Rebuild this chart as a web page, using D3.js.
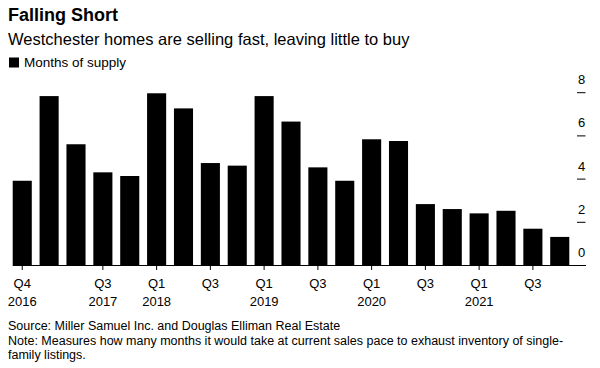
<!DOCTYPE html>
<html>
<head>
<meta charset="utf-8">
<script src="https://cdn.jsdelivr.net/npm/d3@7"></script>
<style>
  html, body { margin: 0; padding: 0; background: #fff; }
  svg { display: block; font-family: "Liberation Sans", Arial, Helvetica, sans-serif; }
</style>
</head>
<body>
<svg id="chart" width="600" height="368"></svg>
<script>
// Data
const quarters = ["Q4 2016","Q1 2017","Q2 2017","Q3 2017","Q4 2017",
  "Q1 2018","Q2 2018","Q3 2018","Q4 2018",
  "Q1 2019","Q2 2019","Q3 2019","Q4 2019",
  "Q1 2020","Q2 2020","Q3 2020","Q4 2020",
  "Q1 2021","Q2 2021","Q3 2021","Q4 2021"];
const monthsOfSupply = [3.9, 7.82, 5.59, 4.29, 4.12,
  7.95, 7.25, 4.72, 4.6,
  7.82, 6.64, 4.52, 3.9,
  5.82, 5.74, 2.82, 2.59,
  2.39, 2.51, 1.68, 1.3];
const xTickQuarters = ["Q4 2016","Q3 2017","Q1 2018","Q3 2018","Q1 2019","Q3 2019","Q1 2020","Q3 2020","Q1 2021","Q3 2021"];
const xTickLine1 = ["Q4","Q3","Q1","Q3","Q1","Q3","Q1","Q3","Q1","Q3"];
const xTickLine2 = ["2016","2017","2018","","2019","","2020","","2021",""];
const yTicks = [0, 2, 4, 6, 8];

const title = "Falling Short";
const subtitle = "Westchester homes are selling fast, leaving little to buy";
const legendLabel = "Months of supply";
const sourceLines = [
  "Source: Miller Samuel Inc. and Douglas Elliman Real Estate",
  "Note: Measures how many months it would take at current sales pace to exhaust inventory of single-",
  "family listings."
];

const svg = d3.select("#chart");

// Header
svg.append("text").attr("x", 8).attr("y", 21)
  .attr("font-size", 18).attr("font-weight", "bold").attr("fill", "#000").text(title);
svg.append("text").attr("x", 8).attr("y", 44.5)
  .attr("font-size", 16.5).attr("fill", "#000").text(subtitle);
svg.append("rect").attr("x", 9).attr("y", 57.5).attr("width", 10).attr("height", 10).attr("fill", "#000");
svg.append("text").attr("x", 24).attr("y", 67)
  .attr("font-size", 13.5).attr("fill", "#000").text(legendLabel);

// Scales
const x = d3.scaleBand().domain(quarters).range([12.7, 569.3]).paddingInner(0.29).paddingOuter(0);
const y = d3.scaleLinear().domain([0, 8]).range([265, 92.2]);

// Bars
svg.append("g").selectAll("rect").data(quarters).join("rect")
  .attr("x", d => x(d))
  .attr("y", (d, i) => y(monthsOfSupply[i]))
  .attr("width", x.bandwidth())
  .attr("height", (d, i) => y(0) - y(monthsOfSupply[i]))
  .attr("fill", "#000");

// X axis
const xAxis = d3.axisBottom(x).tickValues(xTickQuarters).tickSize(5).tickSizeOuter(0).tickFormat("");
const gx = svg.append("g").attr("transform", `translate(0,${y(0)})`).call(xAxis);
gx.select(".domain").remove();
gx.selectAll(".tick line").attr("stroke", "#000").attr("stroke-width", 1);
svg.append("line").attr("x1", 12.7).attr("x2", 586).attr("y1", y(0) + 0.5).attr("y2", y(0) + 0.5)
  .attr("stroke", "#000").attr("stroke-width", 1);
gx.selectAll(".tick").each(function(d, i) {
  const t = d3.select(this);
  t.append("text").attr("y", 23).attr("text-anchor", "middle").attr("fill", "#000")
    .attr("font-size", 13).text(xTickLine1[i]);
  if (xTickLine2[i]) {
    t.append("text").attr("y", 41).attr("text-anchor", "middle").attr("fill", "#000")
      .attr("font-size", 13).text(xTickLine2[i]);
  }
});

// Y axis (right)
const yAxis = d3.axisRight(y).tickValues(yTicks).tickSize(0).tickFormat(d3.format("d"));
const gy = svg.append("g").attr("transform", "translate(581.5,0)").call(yAxis);
gy.select(".domain").remove();
gy.selectAll(".tick text").attr("x", 0).attr("dy", -8.5).attr("text-anchor", "middle")
  .attr("font-size", 13).attr("fill", "#000").attr("font-family", null);
gy.selectAll(".tick").filter(d => d !== 0).append("line")
  .attr("x1", -4.5).attr("x2", 4).attr("stroke", "#000").attr("stroke-width", 1);

// Footer
svg.append("g").selectAll("text").data(sourceLines).join("text")
  .attr("x", 8).attr("y", (d, i) => 330 + i * 14.7)
  .attr("font-size", 12.5).attr("fill", "#000").text(d => d);
</script>
</body>
</html>
